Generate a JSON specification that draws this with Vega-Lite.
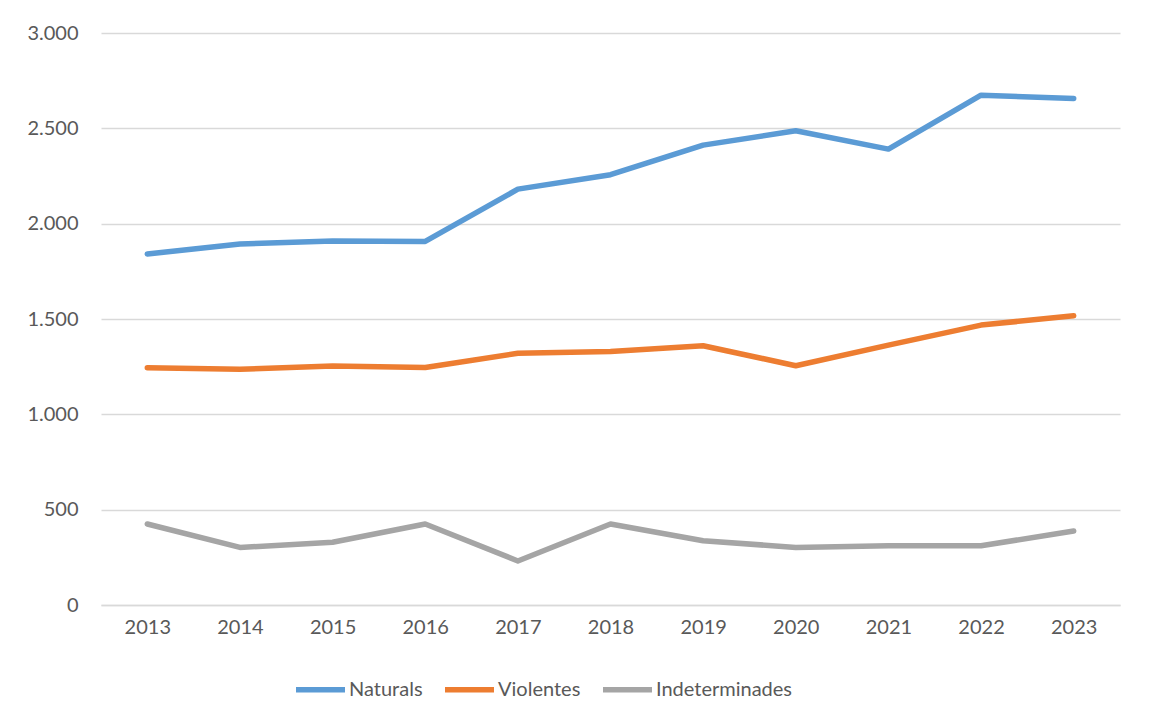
{
  "$schema": "https://vega.github.io/schema/vega-lite/v6.json",
  "autosize": {"type": "none"},
  "width": 1019,
  "height": 572,
  "padding": {"left": 101, "top": 33, "right": 30, "bottom": 119},
  "background": "white",
  "data": {
    "values": [
      {"year": "2013", "serie": "Naturals", "value": 1841},
      {"year": "2014", "serie": "Naturals", "value": 1893},
      {"year": "2015", "serie": "Naturals", "value": 1909},
      {"year": "2016", "serie": "Naturals", "value": 1907},
      {"year": "2017", "serie": "Naturals", "value": 2181},
      {"year": "2018", "serie": "Naturals", "value": 2257},
      {"year": "2019", "serie": "Naturals", "value": 2412},
      {"year": "2020", "serie": "Naturals", "value": 2487},
      {"year": "2021", "serie": "Naturals", "value": 2391},
      {"year": "2022", "serie": "Naturals", "value": 2674},
      {"year": "2023", "serie": "Naturals", "value": 2657},
      {"year": "2013", "serie": "Violentes", "value": 1244},
      {"year": "2014", "serie": "Violentes", "value": 1236},
      {"year": "2015", "serie": "Violentes", "value": 1253},
      {"year": "2016", "serie": "Violentes", "value": 1246},
      {"year": "2017", "serie": "Violentes", "value": 1320},
      {"year": "2018", "serie": "Violentes", "value": 1330},
      {"year": "2019", "serie": "Violentes", "value": 1360},
      {"year": "2020", "serie": "Violentes", "value": 1255},
      {"year": "2021", "serie": "Violentes", "value": 1363},
      {"year": "2022", "serie": "Violentes", "value": 1468},
      {"year": "2023", "serie": "Violentes", "value": 1517},
      {"year": "2013", "serie": "Indeterminades", "value": 425},
      {"year": "2014", "serie": "Indeterminades", "value": 302},
      {"year": "2015", "serie": "Indeterminades", "value": 329},
      {"year": "2016", "serie": "Indeterminades", "value": 425},
      {"year": "2017", "serie": "Indeterminades", "value": 231},
      {"year": "2018", "serie": "Indeterminades", "value": 425},
      {"year": "2019", "serie": "Indeterminades", "value": 337},
      {"year": "2020", "serie": "Indeterminades", "value": 302},
      {"year": "2021", "serie": "Indeterminades", "value": 311},
      {"year": "2022", "serie": "Indeterminades", "value": 311},
      {"year": "2023", "serie": "Indeterminades", "value": 388}
    ]
  },
  "mark": {"type": "line", "strokeWidth": 5.5, "strokeCap": "round", "strokeJoin": "round"},
  "encoding": {
    "x": {
      "field": "year", "type": "ordinal",
      "scale": {"type": "point", "padding": 0.5},
      "axis": {"title": null, "labelAngle": 0, "ticks": false, "domain": true, "domainColor": "#d9d9d9", "domainWidth": 1.5, "labelPadding": 12, "grid": false}
    },
    "y": {
      "field": "value", "type": "quantitative",
      "scale": {"domain": [0, 3000], "nice": false},
      "axis": {"title": null, "values": [0, 500, 1000, 1500, 2000, 2500, 3000], "ticks": false, "domain": false, "labelPadding": 23, "gridColor": "#d9d9d9", "gridWidth": 1.5,
        "labelExpr": "replace(format(datum.value, ','), ',', '.')"}
    },
    "color": {
      "field": "serie", "type": "nominal",
      "scale": {"domain": ["Naturals", "Violentes", "Indeterminades"], "range": ["#5B9BD5", "#ED7D31", "#A5A5A5"]},
      "legend": {"title": null, "orient": "none", "legendX": 192, "legendY": 629, "direction": "horizontal", "symbolType": "stroke", "symbolSize": 2400, "symbolStrokeWidth": 5.5, "labelOffset": 1, "columnPadding": 11}
    }
  },
  "config": {
    "font": "Lato",
    "view": {"stroke": null},
    "axis": {"labelFont": "Lato", "labelFontSize": 20, "labelColor": "#595959"},
    "legend": {"labelFont": "Lato", "labelFontSize": 20, "labelColor": "#595959"}
  }
}
